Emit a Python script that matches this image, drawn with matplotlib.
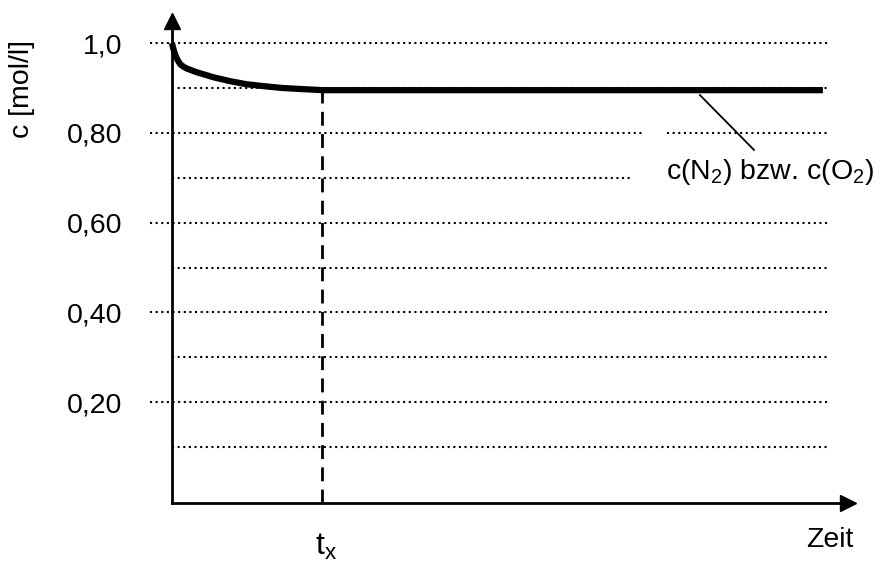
import matplotlib
matplotlib.use("Agg")
import matplotlib.pyplot as plt

plt.rcParams['font.family'] = ['Liberation Sans', 'DejaVu Sans']
plt.rcParams['mathtext.fontset'] = 'custom'
plt.rcParams['mathtext.rm'] = 'Liberation Sans'
plt.rcParams['mathtext.it'] = 'Liberation Sans'

# concentration curve (time in arbitrary units)
zeit = [0.0, 0.015, 0.03, 0.045, 0.06, 0.09, 0.12, 0.17, 0.22, 0.36, 0.6, 0.85,
        1.1, 1.34, 1.6, 1.83, 2.2, 9.53]
conc = [1.0, 0.99, 0.982, 0.975, 0.969, 0.96, 0.953, 0.947, 0.943, 0.935, 0.924,
        0.915, 0.908, 0.904, 0.9, 0.898, 0.895, 0.895]

y_ticks = [0.2, 0.4, 0.6, 0.8, 1.0]
y_labels = ['0,20', '0,40', '0,60', '0,80', '1,0']
grid_major = [0.2, 0.4, 0.6, 0.8, 1.0]
grid_minor = [0.1, 0.3, 0.5, 0.7, 0.9]
t_x = 2.2
c_end = 0.895

fig = plt.figure(figsize=(8.82, 5.61), dpi=100)
ax = fig.add_axes([0, 0, 1, 1])
ax.set_xlim(-2.518, 10.395)
ax.set_ylim(-0.1537, 1.0958)

# dotted grid lines
dot = dict(color='black', linestyle=(0, (1, 1.7)), linewidth=1.5, zorder=1)
for g in grid_major:
    if g == 0.8:
        ax.plot([-0.32, 6.9], [g, g], **dot)
        ax.plot([7.25, 9.63], [g, g], **dot)
    else:
        ax.plot([-0.32, 9.63], [g, g], **dot)
for g in grid_minor:
    if g == 0.7:
        ax.plot([0, 6.75], [g, g], **dot)
    else:
        ax.plot([0, 9.63], [g, g], **dot)

# curve
ax.plot(zeit, conc, color='black', linewidth=4.5, solid_capstyle='butt',
        solid_joinstyle='round', zorder=3)

# dashed line at t_x
ax.plot([t_x, t_x], [-0.025, c_end], color='black', linewidth=2,
        dashes=(5, 3), zorder=2)

# axes with arrows
for s in ['top', 'right']:
    ax.spines[s].set_visible(False)
ax.spines['left'].set_position(('data', 0))
ax.spines['bottom'].set_position(('data', -0.025))
ax.spines['left'].set_bounds(-0.025, 1.05)
ax.spines['bottom'].set_bounds(0, 9.9)
ax.spines['left'].set_linewidth(2)
ax.spines['bottom'].set_linewidth(2)
ax.plot(0, 1.05, marker='^', color='black', markersize=11, clip_on=False)
ax.plot(9.9, -0.025, marker='>', color='black', markersize=11, clip_on=False)

ax.set_yticks(y_ticks)
ax.set_yticklabels(y_labels)
ax.set_xticks([])
ax.tick_params(axis='y', length=0, pad=36, labelsize=20.5)

ax.text(t_x + 0.055, -0.1403, r't$_\mathrm{x}$', ha='center', va='baseline', fontsize=23)
ax.text(-2.196, 0.898, 'c [mol/l]', rotation=90, ha='center', va='center', fontsize=20.5)
ax.text(9.63, -0.107, 'Zeit', ha='center', va='center', fontsize=20.5)

# label with leader line
ax.plot([7.73, 8.52], [0.884, 0.762], color='black', linewidth=1.3)
ax.text(8.76, 0.713, r'c(N$_2$) bzw. c(O$_2$)', ha='center', va='center', fontsize=20.5)

fig.savefig('out.png', dpi=100)
